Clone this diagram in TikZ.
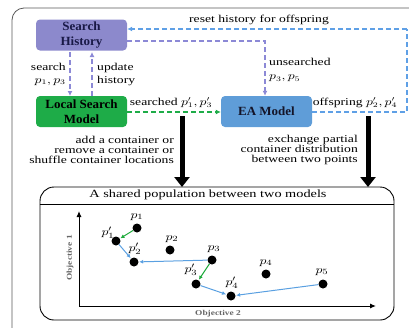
\documentclass[tikz,border=0pt]{standalone}
\usepackage{fontspec}
\setmainfont{Liberation Serif}
\newfontfamily\widefont{Liberation Serif}[FakeStretch=1.3]
\newfontfamily\boxfont{Liberation Serif}[FakeStretch=1.04]
\newfontfamily\objfont{Liberation Serif}[FakeStretch=1.25]
\usetikzlibrary{arrows.meta,calc}
\newcommand\wm[1]{\scalebox{1.25}[1]{$#1$}}
\definecolor{lav}{RGB}{140,137,204}
\definecolor{lavline}{RGB}{140,137,214}
\definecolor{grn}{RGB}{30,172,72}
\definecolor{eab}{RGB}{95,157,216}
\definecolor{blueline}{RGB}{95,160,230}
\definecolor{dotblue}{RGB}{90,160,225}
\definecolor{dotgreen}{RGB}{30,170,60}
\tikzset{
  modelbox/.style={rounded corners=4pt, minimum width=91pt, minimum height=31pt, align=center, font=\boxfont\fontsize{12.5}{14.5}\selectfont\bfseries, inner sep=1pt},
  lbl/.style={font=\widefont\fontsize{10.5}{10}\selectfont, inner sep=0pt},
  lavdash/.style={lavline, line width=1.5pt, dash pattern=on 5pt off 3pt, -{Latex[length=5pt,width=5pt]}},
  bluedash/.style={blueline, line width=1.5pt, dash pattern=on 5pt off 3pt},
  grndash/.style={grn, line width=1.5pt, dash pattern=on 5pt off 3pt, -{Latex[length=5pt,width=5pt]}},
  bigarrow/.style={black, line width=5pt, -{Triangle[width=15pt,length=10pt]}},
  pt/.style={circle, fill=black, inner sep=0pt, minimum size=9pt},
  plbl/.style={font=\fontsize{11}{12}\selectfont, inner sep=0pt},
  mvblue/.style={dotblue, line width=1pt, -{Latex[length=4pt,width=4pt]}, shorten >=0.5pt},
  mvgreen/.style={dotgreen, line width=1pt, -{Latex[length=4pt,width=4pt]}, shorten >=0.5pt},
  objlbl/.style={font=\objfont\fontsize{7.5}{8}\selectfont\bfseries, text=gray!80!black, inner sep=0pt},
}
\begin{document}
\begin{tikzpicture}[x=1pt,y=-1pt]
\useasboundingbox (0,0) rectangle (409,327);
\begin{scope}
\clip (0,0) rectangle (409,327);
\draw[gray!70!black, line width=0.8pt, rounded corners=12pt] (12,8) rectangle (440,360);
\end{scope}
% boxes
\node[modelbox, fill=lav, text={rgb,255:red,25;green,25;blue,70}] (sh) at (81.5,35) {Search\\History};
\node[modelbox, fill=grn, text=black] (lsm) at (81.5,111.5) {Local Search\\Model};
\node[modelbox, fill=eab, text={rgb,255:red,20;green,20;blue,40}] (ea) at (266.5,111.5) {EA Model};
% reset history loop
\coordinate (c1) at (407,112);
\coordinate (c2) at (407,29);
\draw[bluedash] (ea.east |- c1) -- (c1) -- (c2);
\draw[bluedash, -{Latex[length=5pt,width=5pt]}] (c2) -- (sh.east |- c2);
\node[lbl] (reset) at (259,20) {reset history for offspring};
\node[lbl, anchor=south] (off) at (355,108) {offspring \wm{p_2', p_4'}};
% unsearched
\coordinate (c3) at (265,41);
\draw[lavdash] (sh.east |- c3) -- (c3) -- (ea.north -| c3);
\node[lbl, align=left, anchor=west, font=\widefont\fontsize{10.5}{14}\selectfont] (uns) at (269,70) {unsearched\\\wm{p_3, p_5}};
% search / update
\coordinate (s1) at (70,52);
\coordinate (s2) at (70,96);
\coordinate (u1) at (92,96);
\coordinate (u2) at (92,52);
\draw[lavdash] (s1) -- (s2);
\draw[lavdash] (u1) -- (u2);
\node[lbl, align=right, anchor=east, font=\widefont\fontsize{10.5}{13}\selectfont] (srch) at (66,74) {search\\\wm{p_1, p_3}};
\node[lbl, align=left, anchor=west, font=\widefont\fontsize{10.5}{13}\selectfont] (upd) at (97,74) {update\\history};
% searched
\draw[grndash] (lsm.east |- c1) -- (ea.west |- c1);
\node[lbl, anchor=south] (sd) at (171,108) {searched \wm{p_1', p_3'}};
% descriptions
\node[lbl, align=right, anchor=east] (d1) at (174,150) {add a container or\\remove a container or\\shuffle container locations};
\node[lbl, align=right, anchor=east] (d2) at (358,150) {exchange partial\\container distribution\\between two points};
% shared population
\node[draw, line width=0.9pt, rounded corners=14pt, minimum width=354pt, minimum height=133pt, inner sep=0pt] (shared) at (217,253.5) {};
\draw[line width=0.9pt] (shared.west |- 0,204) -- (shared.east |- 0,204);
\node[font=\widefont\fontsize{11}{12}\selectfont, inner sep=0pt] (title) at (208,195) {A shared population between two models};
% big arrows
\coordinate (a1) at (182,116);
\coordinate (a2) at (182,187);
\coordinate (b1) at (368,116);
\coordinate (b2) at (368,187);
\draw[bigarrow] (a1) -- (a2);
\draw[bigarrow] (b1) -- (b2);
% axes
\coordinate (o) at (79,306);
\coordinate (ytop) at (79,211);
\coordinate (xend) at (376,306);
\draw[line width=1pt, -{Latex[length=6pt,width=5pt]}] (o) -- (ytop);
\draw[line width=1pt, -{Latex[length=6pt,width=5pt]}] (o) -- (xend);
\node[rotate=90, objlbl] (ob1) at (70,258) {Objective 1};
\node[objlbl] (ob2) at (218,314) {Objective 2};
% points
\node[pt] (p1) at (137,228) {};
\node[pt] (p1p) at (116,241) {};
\node[pt] (p2) at (170,250) {};
\node[pt] (p2p) at (134,262) {};
\node[pt] (p3) at (212,260) {};
\node[pt] (p3p) at (196,284) {};
\node[pt] (p4) at (266,274) {};
\node[pt] (p4p) at (231,296) {};
\node[pt] (p5) at (323,284) {};
\node[plbl] at (137,217) {\wm{p_1}};
\node[plbl] at (108,233) {\wm{p_1'}};
\node[plbl] at (172,239) {\wm{p_2}};
\node[plbl] at (135,249) {\wm{p_2'}};
\node[plbl] at (214,249) {\wm{p_3}};
\node[plbl] at (191,270) {\wm{p_3'}};
\node[plbl] at (266,263) {\wm{p_4}};
\node[plbl] at (232,283) {\wm{p_4'}};
\node[plbl] at (322,272) {\wm{p_5}};
% moves
\draw[mvgreen] (p1) -- (p1p);
\draw[mvblue] (p1p) -- (p2p);
\draw[mvblue] (p3) -- (p2p);
\draw[mvgreen] (p3) -- (p3p);
\draw[mvblue] (p3p) -- (p4p);
\draw[mvblue] (p5) -- (p4p);
\end{tikzpicture}
\end{document}
